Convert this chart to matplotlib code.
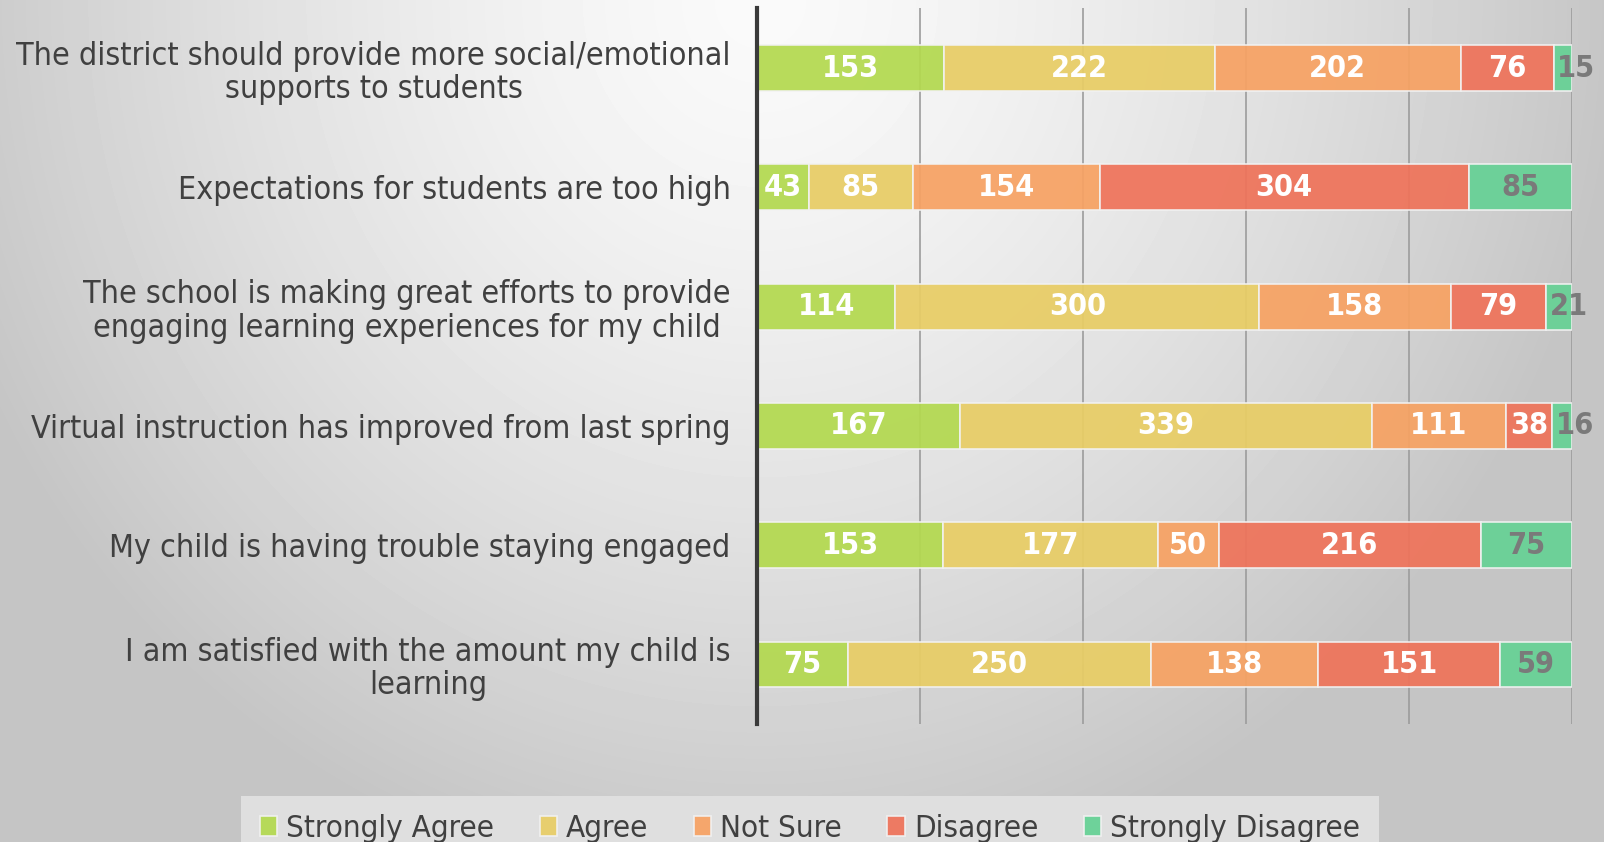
import numpy as np
import matplotlib.pyplot as plt

plt.rcParams.update({
    "font.family": ["DejaVu Sans"],
    "font.stretch": "condensed",
    "font.size": 20,
    "text.color": "#404040",
})

questions = [
    "The district should provide more social/emotional\nsupports to students",
    "Expectations for students are too high",
    "The school is making great efforts to provide\nengaging learning experiences for my child",
    "Virtual instruction has improved from last spring",
    "My child is having trouble staying engaged",
    "I am satisfied with the amount my child is\nlearning",
]
responses = ["Strongly Agree", "Agree", "Not Sure", "Disagree", "Strongly Disagree"]
strongly_agree = [153, 43, 114, 167, 153, 75]
agree = [222, 85, 300, 339, 177, 250]
not_sure = [202, 154, 158, 111, 50, 138]
disagree = [76, 304, 79, 38, 216, 151]
strongly_disagree = [15, 85, 21, 16, 75, 59]

colors = ["#b3d94f", "#e8cd65", "#f7a263", "#ef735a", "#66d195"]
label_colors = ["white", "white", "white", "white", "#7a7a7a"]

counts = np.array([strongly_agree, agree, not_sure, disagree, strongly_disagree], dtype=float)
totals = counts.sum(axis=0)
shares = counts / totals

fig = plt.figure(figsize=(16.04, 8.42), dpi=100)

# radial grey background, light at the top centre
bg = fig.add_axes([0, 0, 1, 1], zorder=-5)
yy, xx = np.mgrid[0:842, 0:1604]
dist = np.sqrt(((xx - 760) / 1604) ** 2 + (yy / 842) ** 2 * 0.25)
shade = np.clip(0.98 - 0.5 * dist ** 1.4, 0.77, 0.98)
bg.imshow(shade, cmap="gray", vmin=0, vmax=1, aspect="auto", extent=[0, 1, 0, 1])
bg.axis("off")

ax = fig.add_axes([0.472, 0.140, 0.508, 0.850])
ax.patch.set_alpha(0)
y = np.arange(len(questions))
left = np.zeros(len(questions))
for i, name in enumerate(responses):
    ax.barh(y, shares[i], left=left, height=0.385, color=colors[i], alpha=0.93,
            edgecolor="#f2f2f2", linewidth=1.2, label=name, zorder=3)
    for j in range(len(questions)):
        # thin end segments: label starts at the segment and runs past the bar
        if shares[i][j] < 0.04 and i == len(responses) - 1:
            xpos, ha = left[j] + 0.004, "left"
        else:
            xpos, ha = left[j] + shares[i][j] / 2, "center"
        ax.text(xpos, y[j], f"{int(counts[i][j])}", ha=ha, va="center",
                color=label_colors[i], fontsize=22, fontweight="bold", zorder=4,
                clip_on=False)
    left += shares[i]

ax.set_xlim(0, 1)
ax.set_ylim(len(questions) - 0.5, -0.5)
ax.set_xticks(np.linspace(0, 1, 6))
ax.set_xticklabels([])
ax.grid(axis="x", color="#9c9c9c", linewidth=1.2, zorder=0)
ax.set_yticks(y)
ax.set_yticklabels(questions, multialignment="center", fontsize=23, color="#404040",
                   linespacing=1.1)
ax.tick_params(length=0, pad=19)
for side in ["top", "right", "bottom"]:
    ax.spines[side].set_visible(False)
ax.spines["left"].set_color("#3a3a3a")
ax.spines["left"].set_linewidth(3)
ax.spines["left"].set_zorder(5)

leg = fig.legend(loc="upper center", bbox_to_anchor=(0.505, 0.0625), ncol=5,
                 frameon=True, fontsize=22.5, handlelength=0.55, handleheight=0.6,
                 handletextpad=0.3, columnspacing=1.45, borderpad=0.3)
leg.get_frame().set_facecolor("#e2e2e2")
leg.get_frame().set_edgecolor("none")
leg.get_frame().set_alpha(0.9)
leg.get_frame().set_boxstyle("square")

fig.savefig("out.png", dpi=100)
